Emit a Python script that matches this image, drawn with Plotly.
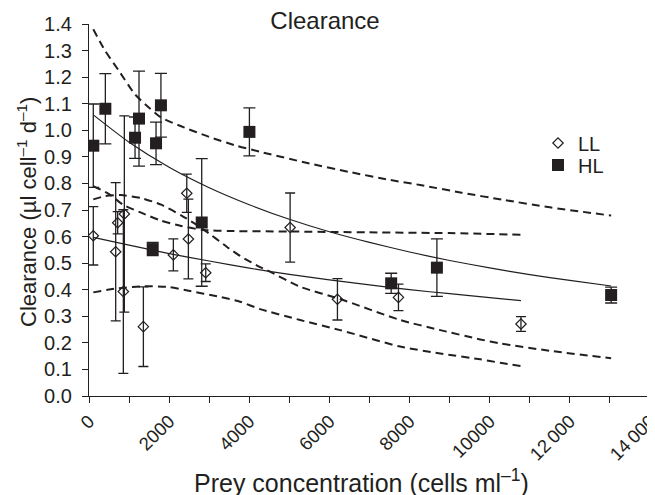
import plotly.graph_objects as go

# ---- data ----
hl_x = [107, 408, 1149, 1248, 1590, 1673, 1795, 2813, 4003, 7541, 8682, 13030]
hl_y = [0.942, 1.081, 0.972, 1.044, 0.553, 0.951, 1.094, 0.653, 0.994, 0.424, 0.483, 0.380]
hl_err = [0.157, 0.132, 0.078, 0.179, 0.025, 0.080, 0.120, 0.240, 0.090, 0.038, 0.108, 0.030]

ll_x = [107, 666, 716, 857, 882, 1357, 2105, 2440, 2480, 2913, 5019, 6200, 7723, 10780]
ll_y = [0.603, 0.543, 0.652, 0.393, 0.685, 0.261, 0.531, 0.763, 0.591, 0.464, 0.634, 0.364, 0.371, 0.271]
ll_err = [0.110, 0.260, 0.042, 0.308, 0.369, 0.150, 0.060, 0.072, 0.150, 0.033, 0.130, 0.078, 0.050, 0.028]

# fitted curves
hl_fit_x = [107, 1000, 2000, 3000, 4000, 5000, 6000, 7000, 8000, 9000, 10000, 11000, 12000, 13030]
hl_fit_y = [1.058, 0.955, 0.861, 0.784, 0.720, 0.665, 0.618, 0.578, 0.542, 0.510, 0.482, 0.457, 0.435, 0.414]

ll_fit_x = [107, 1000, 2000, 3000, 4000, 5000, 6000, 7000, 8000, 9000, 10000, 10780]
ll_fit_y = [0.597, 0.568, 0.536, 0.508, 0.481, 0.458, 0.437, 0.418, 0.400, 0.385, 0.370, 0.359]

hl_up_x = [107, 400, 732, 1149, 1500, 1800, 2300, 3000, 3700, 4270, 5500, 6500, 7516, 8265, 9300, 10345, 11500, 13030]
hl_up_y = [1.380, 1.300, 1.227, 1.135, 1.085, 1.048, 1.015, 0.975, 0.941, 0.919, 0.875, 0.843, 0.813, 0.794, 0.765, 0.738, 0.710, 0.679]

hl_lo_x = [107, 400, 800, 1300, 1800, 2300, 2829, 3500, 3770, 4270, 4437, 5268, 6267, 7765, 8765, 9763, 10262, 11500, 13030]
hl_lo_y = [0.740, 0.752, 0.756, 0.745, 0.720, 0.680, 0.630, 0.555, 0.527, 0.485, 0.474, 0.411, 0.365, 0.286, 0.248, 0.213, 0.198, 0.170, 0.142]

ll_up_x = [107, 500, 849, 1300, 1800, 2300, 2829, 3500, 5000, 7000, 9000, 10780]
ll_up_y = [0.790, 0.760, 0.720, 0.690, 0.660, 0.640, 0.625, 0.621, 0.619, 0.616, 0.613, 0.607]

ll_lo_x = [107, 700, 1357, 2000, 2522, 3200, 3770, 4270, 5268, 6267, 7765, 8765, 9763, 10262, 10780]
ll_lo_y = [0.390, 0.405, 0.413, 0.410, 0.395, 0.375, 0.355, 0.327, 0.286, 0.248, 0.186, 0.160, 0.138, 0.125, 0.113]

x_tickvals = [0, 2000, 4000, 6000, 8000, 10000, 12000, 14000]
x_ticktext = ["0", "2000", "4000", "6000", "8000", "10000", "12\u2009000", "14\u2009000"]

INK = "#231f20"
FONT = "Liberation Sans, Arial, Helvetica, sans-serif"

# The page body has an 8px default margin, so the figure is drawn 8px
# smaller and all reference-page pixel positions are shifted by 8.
OFF = 8
W, H = 655 - OFF, 495 - OFF
L, R, T, B = 89 - OFF, 5, 24 - OFF, 99
PW, PH = W - L - R, H - T - B


def px_x(px):
    return (px - OFF - L) / PW


def px_y(py):
    return (H - B - (py - OFF)) / PH


fig = go.Figure()


def curve(xs, ys, dash):
    fig.add_trace(go.Scatter(
        x=xs, y=ys, mode="lines", showlegend=False, hoverinfo="skip",
        line=dict(color=INK, width=1.2 if dash == "solid" else 2.0, dash=dash, shape="spline", smoothing=0.6),
    ))


curve(hl_up_x, hl_up_y, "8px,5px")
curve(hl_lo_x, hl_lo_y, "8px,5px")
curve(ll_up_x, ll_up_y, "8px,5px")
curve(ll_lo_x, ll_lo_y, "8px,5px")
curve(hl_fit_x, hl_fit_y, "solid")
curve(ll_fit_x, ll_fit_y, "solid")

fig.add_trace(go.Scatter(
    x=ll_x, y=ll_y, mode="markers", name="LL", legend="legend",
    marker=dict(symbol="diamond-open", size=8, color=INK, line=dict(color=INK, width=1.2)),
    error_y=dict(type="data", array=ll_err, visible=True, color=INK, thickness=1.3, width=5),
))
fig.add_trace(go.Scatter(
    x=hl_x, y=hl_y, mode="markers", name="HL", legend="legend2",
    marker=dict(symbol="square", size=12, color=INK, line=dict(color=INK, width=0)),
    error_y=dict(type="data", array=hl_err, visible=True, color=INK, thickness=1.3, width=6),
))

leg_common = dict(xanchor="left", yanchor="middle", bgcolor="rgba(0,0,0,0)",
                  font=dict(size=20, family=FONT, color=INK), itemsizing="trace")

fig.update_layout(
    width=W, height=H,
    margin=dict(l=L, r=R, t=T, b=B, autoexpand=False),
    paper_bgcolor="white", plot_bgcolor="white",
    font=dict(family=FONT, color=INK, size=20),
    title=dict(text="Clearance", x=(325 - OFF) / W, xanchor="center", xref="container",
               y=1 - (21 - OFF) / H, yanchor="middle", yref="container",
               font=dict(size=24, family=FONT, color=INK)),
    legend=dict(x=px_x(538), y=px_y(143), **leg_common),
    legend2=dict(x=px_x(538), y=px_y(165), **leg_common),
    xaxis=dict(
        range=[0, 14000], tickvals=x_tickvals, ticktext=x_ticktext, tickangle=-45,
        showline=True, linecolor=INK, linewidth=1.3, ticks="outside", ticklen=6, tickwidth=1.3, tickcolor=INK,
        showgrid=False, zeroline=False, tickfont=dict(size=18.5), ticklabeloverflow="allow",
        minor=dict(dtick=1000, tick0=0, ticks="outside", ticklen=6, tickwidth=1.3, tickcolor=INK, showgrid=False),
        automargin=False,
    ),
    yaxis=dict(
        range=[0, 1.4], dtick=0.1, tick0=0, tickformat=".1f",
        showline=True, linecolor=INK, linewidth=1.3, ticks="outside", ticklen=6, tickwidth=1.3, tickcolor=INK,
        showgrid=False, zeroline=False, tickfont=dict(size=20), ticklabelstandoff=6,
        automargin=False,
    ),
    annotations=[
        dict(text="Prey concentration (cells ml<sup>\u20131</sup>)", xref="paper", yref="paper",
             x=px_x(361), y=px_y(481), xanchor="center", yanchor="middle", showarrow=False,
             font=dict(size=25, family=FONT, color=INK)),
        dict(text="Clearance (\u00b5l cell<sup>\u20131</sup> d<sup>\u20131</sup>)", xref="paper", yref="paper",
             x=px_x(27), y=px_y(212), xanchor="center", yanchor="middle", showarrow=False, textangle=-90,
             font=dict(size=22, family=FONT, color=INK)),
    ],
)

fig.write_html("out.html")
